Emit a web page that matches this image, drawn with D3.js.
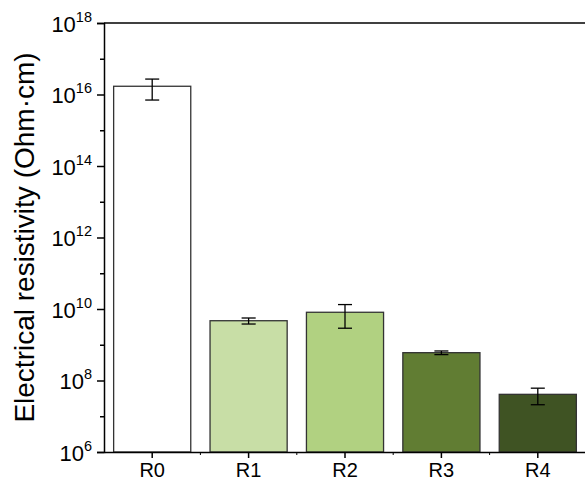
<!DOCTYPE html>
<html>
<head>
<meta charset="utf-8">
<script src="https://cdn.jsdelivr.net/npm/d3@7"></script>
<style>
  body { margin: 0; background: #fff; }
  text { font-family: "Liberation Sans", Arial, sans-serif; fill: #000; }
</style>
</head>
<body>
<svg id="chart" width="585" height="481"></svg>
<script>
// Data
const samples = ["R0", "R1", "R2", "R3", "R4"];
const resistivity = [1.7e16, 4.7e9, 8.1e9, 6.0e8, 4.1e7];
const errors = [1.0e16, 0.9e9, 5.2e9, 0.7e8, 2.0e7];
const barColors = ["#ffffff", "#c8dea6", "#b1d181", "#617d33", "#3f5323"];
const majorExponents = [6, 8, 10, 12, 14, 16, 18];
const minorExponents = [7, 9, 11, 13, 15, 17];

const svg = d3.select("#chart");
const margin = { top: 23, right: -1, bottom: 29, left: 104 };
const width = 585 - margin.left - margin.right;
const height = 481 - margin.top - margin.bottom;

const chart = svg.append("g")
  .attr("transform", `translate(${margin.left},${margin.top})`);

// Scales
const xScale = d3.scaleBand()
  .domain(samples)
  .range([0, width])
  .paddingInner(0.2)
  .paddingOuter(0.1);

const yScale = d3.scaleLog()
  .domain([1e6, 1e18])
  .range([height, 0]);

// Bars
chart.selectAll("rect.bar")
  .data(samples)
  .join("rect")
    .attr("class", "bar")
    .attr("x", d => xScale(d))
    .attr("width", xScale.bandwidth())
    .attr("y", (d, i) => yScale(resistivity[i]))
    .attr("height", (d, i) => height - yScale(resistivity[i]))
    .attr("fill", (d, i) => barColors[i])
    .attr("stroke", "#333")
    .attr("stroke-width", 1.3);

// Error bars
const cap = 7;
const errG = chart.selectAll("g.err")
  .data(samples)
  .join("g")
    .attr("class", "err")
    .attr("transform", d => `translate(${xScale(d) + xScale.bandwidth() / 2},0)`)
    .attr("stroke", "#000")
    .attr("stroke-width", 1.3);

errG.append("line")
  .attr("y1", (d, i) => yScale(resistivity[i] + errors[i]))
  .attr("y2", (d, i) => yScale(resistivity[i] - errors[i]));
errG.append("line")
  .attr("x1", -cap).attr("x2", cap)
  .attr("y1", (d, i) => yScale(resistivity[i] + errors[i]))
  .attr("y2", (d, i) => yScale(resistivity[i] + errors[i]));
errG.append("line")
  .attr("x1", -cap).attr("x2", cap)
  .attr("y1", (d, i) => yScale(resistivity[i] - errors[i]))
  .attr("y2", (d, i) => yScale(resistivity[i] - errors[i]));

// Y axis (major ticks with 10^n labels, minor ticks between)
const yAxis = d3.axisLeft(yScale)
  .tickValues(majorExponents.map(e => Math.pow(10, e)))
  .tickSize(7)
  .tickFormat("");
const yAxisG = chart.append("g").call(yAxis);

yAxisG.selectAll(".tick text").remove();
yAxisG.selectAll(".tick")
  .append("text")
    .attr("x", -12)
    .attr("y", 8)
    .attr("text-anchor", "end")
    .style("font-size", "22px")
    .each(function(d) {
      const t = d3.select(this);
      t.append("tspan").text("10");
      t.append("tspan")
        .attr("dy", -10)
        .style("font-size", "14.5px")
        .text(Math.round(Math.log10(d)));
    });

chart.append("g")
  .call(d3.axisLeft(yScale)
    .tickValues(minorExponents.map(e => Math.pow(10, e)))
    .tickSize(4)
    .tickFormat(""))
  .select(".domain").remove();

// X axis
const xAxisG = chart.append("g")
  .attr("transform", `translate(0,${height})`)
  .call(d3.axisBottom(xScale).tickSize(6).tickPadding(5).tickSizeOuter(0));
xAxisG.selectAll("text").style("font-size", "20px");

// Minor x ticks at band boundaries
const step = xScale.step();
const minorX = samples.slice(1).map(d => xScale(d) - step * xScale.paddingInner() / 2);
chart.append("g")
  .selectAll("line")
  .data(minorX)
  .join("line")
    .attr("x1", d => d).attr("x2", d => d)
    .attr("y1", height).attr("y2", height + 3)
    .attr("stroke", "#000");

chart.selectAll(".domain, .tick line")
  .attr("stroke", "#000")
  .attr("stroke-width", 1.5);

// Top and right frame
chart.append("line")
  .attr("x1", 0).attr("x2", width)
  .attr("y1", 0).attr("y2", 0)
  .attr("stroke", "#000").attr("stroke-width", 1.5);
chart.append("line")
  .attr("x1", width).attr("x2", width)
  .attr("y1", 0).attr("y2", height)
  .attr("stroke", "#000").attr("stroke-width", 1.5);

// Y axis title
svg.append("text")
  .attr("transform", `translate(34,${margin.top + height / 2}) rotate(-90)`)
  .attr("text-anchor", "middle")
  .style("font-size", "28px")
  .text("Electrical resistivity (Ohm·cm)");
</script>
</body>
</html>
